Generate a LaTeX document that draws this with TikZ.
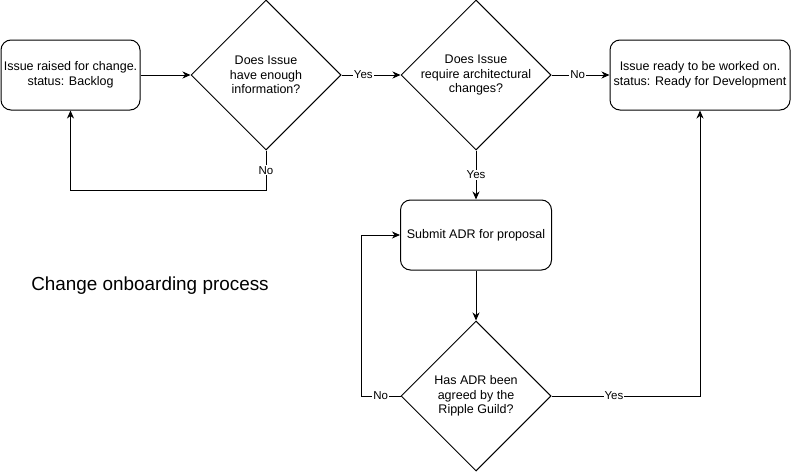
\documentclass[tikz,border=0pt]{standalone}
\usepackage{fontspec}
\setmainfont{Liberation Sans}
\usetikzlibrary{shapes.geometric,arrows.meta}

\begin{document}
\begin{tikzpicture}[x=1pt,y=-1pt,line width=1pt,
    every node/.style={font=\fontsize{12.5}{14.6}\selectfont},
    stepbox/.style={draw,rounded corners=10pt,minimum height=70pt,align=center,inner sep=0pt},
    question/.style={draw,diamond,aspect=1,minimum width=150pt,minimum height=150pt,inner sep=-2.5pt,align=center},
    flow/.style={-{Stealth[length=8pt,width=7pt,inset=2.5pt]}},
    answer/.style={fill=white,inner sep=1pt,font=\fontsize{11.5}{13}\selectfont}]
  \useasboundingbox (0,0) rectangle (791,471);

  \node[stepbox,minimum width=139pt] (issue) at (70.5,75) {Issue raised for change.\\status: Backlog};
  \node[question] (enough) at (266,75) {Does Issue\\have enough\\information?};
  \node[question] (arch) at (476,75) {Does Issue\\require architectural\\changes?};
  \node[stepbox,minimum width=180pt] (ready) at (700,75) {Issue ready to be worked on.\\status: Ready for Development};
  \node[stepbox,minimum width=151pt] (submit) at (476,235) {Submit ADR for proposal};
  \node[question] (agreed) at (476,396) {Has ADR been\\agreed by the\\Ripple Guild?};

  \node[font=\fontsize{18.9}{22}\selectfont] (title) at (150,286) {Change onboarding process};

  \coordinate (nobend) at (266,190);
  \coordinate (retry) at (361,396);

  \draw[flow] (issue) -- (enough);
  \draw[flow] (enough) -- node[answer,pos=0.37] {Yes} (arch);
  \draw[flow] (arch) -- node[answer,pos=0.45] {No} (ready);
  \draw[flow] (arch) -- node[answer] {Yes} (submit);
  \draw[flow] (submit) -- (agreed);
  \draw[flow] (enough.south) -- node[answer] {No} (nobend) -| (issue.south);
  \draw[flow] (agreed.west) -- node[answer] {No} (retry) |- (submit.west);
  \draw[flow] (agreed.east) -| node[answer,pos=0.21] {Yes} (ready.south);
\end{tikzpicture}
\end{document}
